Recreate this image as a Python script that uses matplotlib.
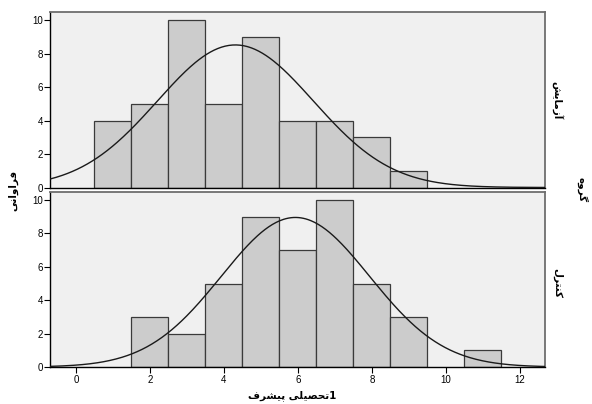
import numpy as np
import matplotlib
matplotlib.use("Agg")
import matplotlib.pyplot as plt

# ---- data ----
bin_centers = [1, 2, 3, 4, 5, 6, 7, 8, 9, 10, 11]
counts_experiment = [4, 5, 10, 5, 9, 4, 4, 3, 1, 0, 0]
counts_control = [0, 3, 2, 5, 9, 7, 10, 5, 3, 0, 1]
group_labels = ["آزمایش", "کنترل"]
group_title = "گروه"
y_title = "فراوانی"
x_title_words = ["پیشرف", "تحصیلی"]
x_title_suffix = "1"
y_ticks = [0, 2, 4, 6, 8, 10]
x_ticks = [0, 2, 4, 6, 8, 10, 12]

# ---- minimal Persian shaping (presentation forms) ----
FORMS = {
    'آ': ('\uFE81', '\uFE82', None, None),
    'ا': ('\uFE8D', '\uFE8E', None, None),
    'ز': ('\uFEAF', '\uFEB0', None, None),
    'ر': ('\uFEAD', '\uFEAE', None, None),
    'و': ('\uFEED', '\uFEEE', None, None),
    'م': ('\uFEE1', '\uFEE2', '\uFEE3', '\uFEE4'),
    'ی': ('\uFBFC', '\uFBFD', '\uFBFE', '\uFBFF'),
    'ش': ('\uFEB5', '\uFEB6', '\uFEB7', '\uFEB8'),
    'ک': ('\uFB8E', '\uFB8F', '\uFB90', '\uFB91'),
    'ن': ('\uFEE5', '\uFEE6', '\uFEE7', '\uFEE8'),
    'ت': ('\uFE95', '\uFE96', '\uFE97', '\uFE98'),
    'ل': ('\uFEDD', '\uFEDE', '\uFEDF', '\uFEE0'),
    'گ': ('\uFB92', '\uFB93', '\uFB94', '\uFB95'),
    'ه': ('\uFEE9', '\uFEEA', '\uFEEB', '\uFEEC'),
    'ف': ('\uFED1', '\uFED2', '\uFED3', '\uFED4'),
    'پ': ('\uFB56', '\uFB57', '\uFB58', '\uFB59'),
    'ح': ('\uFEA1', '\uFEA2', '\uFEA3', '\uFEA4'),
    'ص': ('\uFEB9', '\uFEBA', '\uFEBB', '\uFEBC'),
}


def shape(word):
    out = []
    n = len(word)
    for i, c in enumerate(word):
        if c not in FORMS:
            out.append(c)
            continue
        iso, fin, ini, med = FORMS[c]
        prev = word[i - 1] if i > 0 else None
        nxt = word[i + 1] if i < n - 1 else None
        pj = prev in FORMS and FORMS[prev][2] is not None
        nj = nxt in FORMS and ini is not None
        if pj and nj:
            out.append(med)
        elif pj:
            out.append(fin)
        elif nj:
            out.append(ini)
        else:
            out.append(iso)
    return "".join(out)[::-1]


FONT = ['DejaVu Sans']

fig = plt.figure(figsize=(5.92, 4.04), dpi=100)
ax_top = fig.add_axes([50 / 592, 1 - 187.5 / 404, 495 / 592, 175.5 / 404])
ax_bot = fig.add_axes([50 / 592, 1 - 367 / 404, 495 / 592, 175 / 404])

xs = np.linspace(-0.7, 12.7, 400)
edges_w = 1.0

for ax, counts in [(ax_top, counts_experiment), (ax_bot, counts_control)]:
    ax.set_facecolor('#f0f0f0')
    c = np.array(counts, dtype=float)
    x = np.array(bin_centers, dtype=float)
    mask = c > 0
    ax.bar(x[mask], c[mask], width=edges_w, color='#cccccc',
           edgecolor='#3a3a3a', linewidth=0.9, zorder=2)
    n = c.sum()
    mu = (c * x).sum() / n
    sd = np.sqrt((c * (x - mu) ** 2).sum() / (n - 1))
    pdf = n * edges_w / (sd * np.sqrt(2 * np.pi)) * np.exp(-0.5 * ((xs - mu) / sd) ** 2)
    ax.plot(xs, pdf, color='#1a1a1a', linewidth=1.0, zorder=3)
    ax.set_xlim(-0.7, 12.68)
    ax.set_ylim(0, 10.48)
    ax.set_yticks(y_ticks)
    ax.tick_params(axis='y', labelsize=7, length=4, width=0.8, pad=1)
    for lab in ax.get_yticklabels():
        lab.set_family('Liberation Sans')
    for s in ['top', 'right']:
        ax.spines[s].set_color('#6e6e6e')
        ax.spines[s].set_linewidth(1.3)
    ax.spines['left'].set_color('black')
    ax.spines['bottom'].set_color('black')
    ax.spines['left'].set_linewidth(1.0)
    ax.spines['bottom'].set_linewidth(1.0)

ax_top.set_xticks([])
ax_bot.set_xticks(x_ticks)
ax_bot.tick_params(axis='x', labelsize=7, length=4, width=0.8, pad=2)
for lab in ax_bot.get_xticklabels():
    lab.set_family('Liberation Sans')

# panel labels
fig.text(557 / 592, 1 - 100 / 404, shape(group_labels[0]), rotation=-90,
         ha='center', va='center', fontsize=7.5, fontweight='bold', family=FONT)
fig.text(557 / 592, 1 - 283 / 404, shape(group_labels[1]), rotation=-90,
         ha='center', va='center', fontsize=7.5, fontweight='bold', family=FONT)
fig.text(582 / 592, 1 - 190 / 404, shape(group_title), rotation=-90,
         ha='center', va='center', fontsize=7.5, fontweight='bold', family=FONT)
fig.text(13 / 592, 1 - 190 / 404, shape(y_title), rotation=90,
         ha='center', va='center', fontsize=7.5, fontweight='bold', family=FONT)
xlabel = " ".join(shape(w) for w in x_title_words) + x_title_suffix
fig.text(292 / 592, 1 - 396 / 404, xlabel, ha='center', va='center',
         fontsize=7.5, fontweight='bold', family=FONT)

fig.savefig('out.png', dpi=100)
